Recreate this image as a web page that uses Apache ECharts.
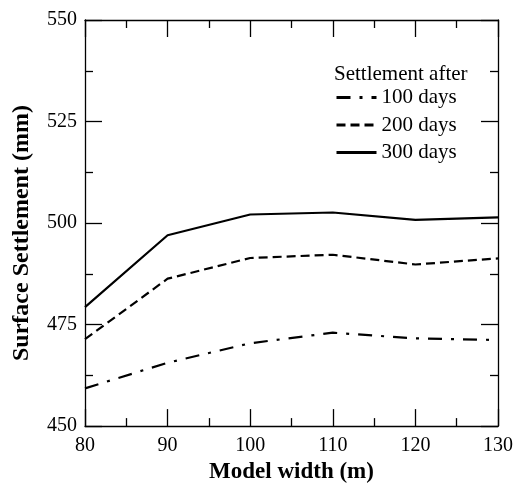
<!DOCTYPE html>
<html>
<head>
<meta charset="utf-8">
<script src="https://cdn.jsdelivr.net/npm/echarts@6/dist/echarts.min.js"></script>
<style>html,body{margin:0;padding:0;background:#fff;}#c{width:516px;height:489px;}</style>
</head>
<body>
<div id="c"></div>
<script>
const widths = [80, 90, 100, 110, 120, 130];
const days100 = [459.3, 465.6, 470.4, 473.0, 471.6, 471.2];
const days200 = [471.4, 486.3, 491.4, 492.2, 489.8, 491.3];
const days300 = [479.3, 497.0, 502.1, 502.6, 500.8, 501.4];
const seriesNames = ['100 days', '200 days', '300 days'];
const legendTitle = 'Settlement after';
const xName = 'Model width (m)';
const yName = 'Surface Settlement (mm)';

const font = 'Liberation Serif, Times New Roman, serif';
const chart = echarts.init(document.getElementById('c'));
const tickCommon = {
  axisLine: {show: true, lineStyle: {color: '#000', width: 1.3}},
  axisTick: {show: true, inside: true, length: 17, lineStyle: {color: '#000', width: 1.3}},
  minorTick: {show: true, splitNumber: 2, length: 8, lineStyle: {color: '#000', width: 1.3}},
  splitLine: {show: false}
};
function mk(vals) { return widths.map((w, i) => [w, vals[i]]); }
chart.setOption({
  animation: false,
  backgroundColor: '#fff',
  title: {text: legendTitle, left: 334, top: 64, textStyle: {fontFamily: font, fontSize: 21, fontWeight: 'normal', color: '#000'}, padding: 0},
  legend: {
    orient: 'vertical', left: 335, top: 87, itemWidth: 40, itemHeight: 18, itemGap: 6.5, padding: 0,
    textStyle: {fontFamily: font, fontSize: 21, color: '#000'},
    itemStyle: {opacity: 0},
    lineStyle: {width: 3},
    data: seriesNames
  },
  grid: {left: 85, right: 16, top: 20, bottom: 56, containLabel: false},
  xAxis: [
    Object.assign({type: 'value', min: 80, max: 130, interval: 10, name: xName, nameLocation: 'middle', nameGap: 33,
      nameTextStyle: {fontFamily: font, fontSize: 23, fontWeight: 'bold', color: '#000'},
      axisLabel: {fontFamily: font, fontSize: 20, color: '#000', margin: 10}}, tickCommon),
    Object.assign({type: 'value', position: 'top', min: 80, max: 130, interval: 10, axisLabel: {show: false}}, tickCommon)
  ],
  yAxis: [
    Object.assign({type: 'value', min: 450, max: 550, interval: 25, name: yName, nameLocation: 'middle', nameGap: 51,
      nameTextStyle: {fontFamily: font, fontSize: 24, fontWeight: 'bold', color: '#000', padding: [0, 20, 0, 0]},
      axisLabel: {fontFamily: font, fontSize: 20, color: '#000', margin: 8}}, tickCommon),
    Object.assign({type: 'value', position: 'right', min: 450, max: 550, interval: 25, axisLabel: {show: false}}, tickCommon)
  ],
  series: [
    {name: seriesNames[0], type: 'line', data: mk(days100), symbol: 'none', lineStyle: {color: '#000', width: 2.2, type: [14, 9, 3, 9]}, itemStyle: {color: '#000'}},
    {name: seriesNames[1], type: 'line', data: mk(days200), symbol: 'none', lineStyle: {color: '#000', width: 2.2, type: [9, 5]}, itemStyle: {color: '#000'}},
    {name: seriesNames[2], type: 'line', data: mk(days300), symbol: 'none', lineStyle: {color: '#000', width: 2.2, type: 'solid'}, itemStyle: {color: '#000'}}
  ]
});
</script>
</body>
</html>
